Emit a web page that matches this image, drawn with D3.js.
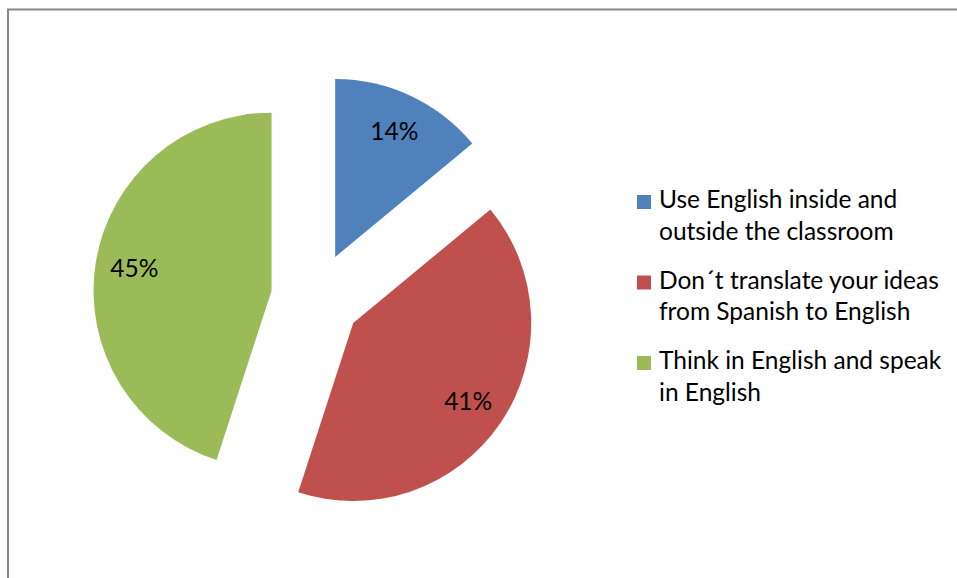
<!DOCTYPE html>
<html>
<head>
<meta charset="utf-8">
<script src="https://cdn.jsdelivr.net/npm/d3@7"></script>
<style>
  html, body { margin: 0; padding: 0; background: #ffffff; }
  svg { display: block; }
  text { font-family: Lato, "Open Sans", sans-serif; fill: #000; }
</style>
</head>
<body>
<svg id="chart" width="957" height="578"></svg>
<script>
// Survey answers: share of students per strategy
const categories = [
  "Use English inside and outside the classroom",
  "Don´t translate your ideas from Spanish to English",
  "Think in English and speak in English"
];
const values = [14, 41, 45];
const valueLabels = ["14%", "41%", "45%"];
const colors = ["#4F81BD", "#C0504D", "#9BBB59"];

const width = 957, height = 578;
const fontSize = "24.5px";
const svg = d3.select("#chart");

// Chart frame (runs off the right and bottom edges)
svg.append("rect")
  .attr("x", 8).attr("y", 9.5)
  .attr("width", 1000).attr("height", 700)
  .attr("fill", "none")
  .attr("stroke", "#878787")
  .attr("stroke-width", 2);

// Pie geometry
const cx = 316, cy = 297.7;
const radius = 178;
const explode = 45;
const labelRadius = 139;

const pie = d3.pie().sort(null).value(d => d)
  .startAngle(0).endAngle(2 * Math.PI);
const arcs = pie(values);
const arc = d3.arc().innerRadius(0).outerRadius(radius);

const g = svg.append("g").attr("transform", `translate(${cx},${cy})`);

const slices = g.selectAll("g.slice")
  .data(arcs)
  .join("g")
  .attr("class", "slice")
  .attr("transform", d => {
    const mid = (d.startAngle + d.endAngle) / 2;
    return `translate(${Math.sin(mid) * explode},${-Math.cos(mid) * explode})`;
  });

slices.append("path")
  .attr("d", arc)
  .attr("fill", (d, i) => colors[i]);

slices.append("text")
  .attr("transform", d => {
    const a = (d.startAngle + d.endAngle) / 2;
    return `translate(${Math.sin(a) * labelRadius},${-Math.cos(a) * labelRadius})`;
  })
  .attr("text-anchor", "middle")
  .attr("dy", "0.35em")
  .style("font-size", fontSize)
  .text((d, i) => valueLabels[i]);

// Legend with wrapped entries
const legendX = 637, legendY = 194;
const entryGap = 80.5, lineGap = 31.8, maxTextWidth = 296;
const legend = svg.append("g").attr("transform", `translate(${legendX},${legendY})`);

categories.forEach((cat, i) => {
  const item = legend.append("g").attr("transform", `translate(0,${i * entryGap})`);
  item.append("rect")
    .attr("x", 0).attr("y", 1)
    .attr("width", 14).attr("height", 14)
    .attr("fill", colors[i]);
  const text = item.append("text")
    .attr("x", 22).attr("y", 14)
    .style("font-size", fontSize);
  // word wrap
  const words = cat.split(" ");
  let line = [];
  let tspan = text.append("tspan").attr("x", 22).attr("dy", 0);
  words.forEach(w => {
    line.push(w);
    tspan.text(line.join(" "));
    if (tspan.node().getComputedTextLength() > maxTextWidth && line.length > 1) {
      line.pop();
      tspan.text(line.join(" "));
      line = [w];
      tspan = text.append("tspan").attr("x", 22).attr("dy", lineGap).text(w);
    }
  });
});
</script>
</body>
</html>
